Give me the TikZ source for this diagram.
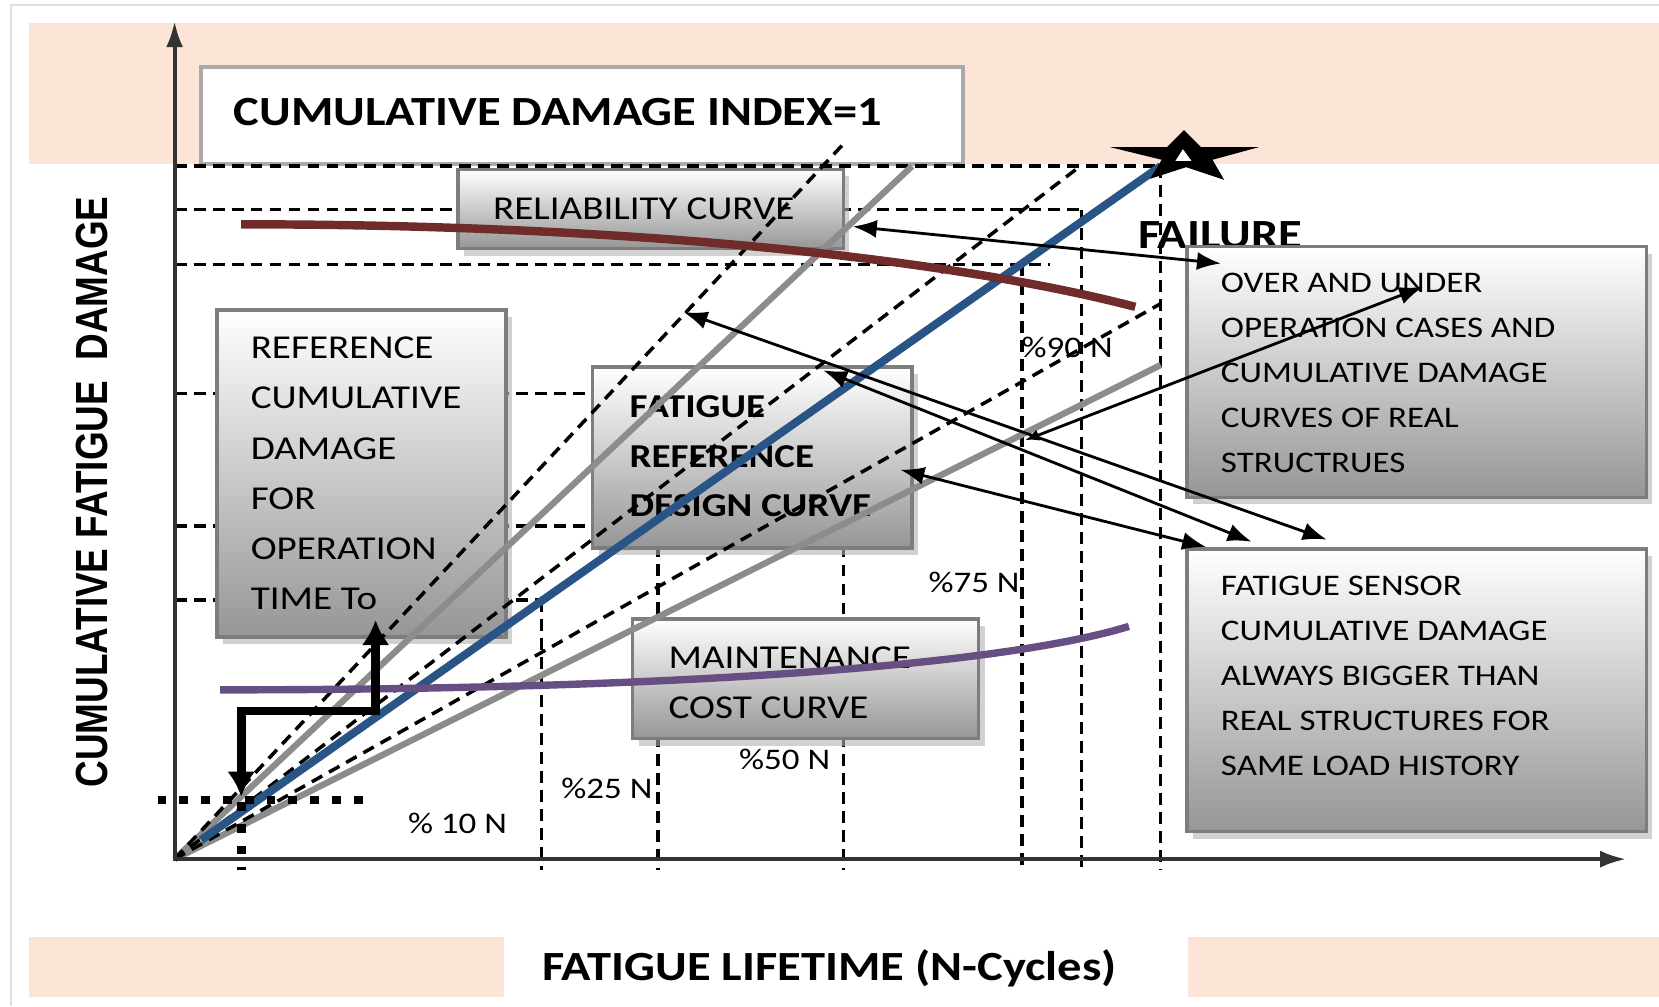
\documentclass[tikz,border=0pt]{standalone}
\usepackage{fontspec}
\setmainfont{Carlito}[FakeStretch=1.17]
\newfontfamily\ylabfont{Liberation Sans}[FakeStretch=0.82]
\usetikzlibrary{arrows.meta,shadows}
\definecolor{peach}{RGB}{252,229,214}
\definecolor{lgray}{RGB}{140,140,140}
\definecolor{dblue}{RGB}{40,84,134}
\definecolor{dred}{RGB}{112,43,43}
\definecolor{dpurple}{RGB}{104,79,131}
\definecolor{bordergray}{RGB}{125,125,125}
\definecolor{boxbottom}{RGB}{150,150,150}
\definecolor{titleborder}{RGB}{170,170,170}
\newdimen\px \px=0.01058cm
\begin{document}
\begin{tikzpicture}[x=0.01058cm, y=-0.01058cm,
  gbox/.style={draw=bordergray, line width=1pt, top color=white, bottom color=boxbottom,
    drop shadow={shadow xshift=0.6mm, shadow yshift=-0.7mm, fill=black!30, opacity=0.6}},
  titlebox/.style={draw=titleborder, line width=1.1pt, fill=white},
  btxt/.style={inner sep=0pt, align=left, font=\fontsize{9.5}{14.3}\selectfont},
  rtxt/.style={inner sep=0pt, align=left, font=\fontsize{8.5}{12.78}\selectfont},
  pct/.style={inner sep=0pt, anchor=west, font=\fontsize{8.5}{10}\selectfont},
  bigtxt/.style={inner sep=0pt, font=\bfseries\fontsize{11.8}{14}\selectfont},
  griddash/.style={line width=1pt, dash pattern=on 3.4pt off 2pt},
  diagdash/.style={line width=1pt, dash pattern=on 3.4pt off 2.2pt},
  grayline/.style={lgray, line width=1.8pt},
  blueline/.style={dblue, line width=2.3pt},
  axisline/.style={black!80, line width=1.1pt, -{Latex[length=2.6mm,width=1.7mm]}},
  thinarrow/.style={line width=0.8pt, {Latex[length=2.4mm,width=1.8mm]}-{Latex[length=2.4mm,width=1.8mm]}},
  thickarrow/.style={line width=2.5pt, {Latex[length=2.5mm,width=2.8mm]}-{Latex[length=2.5mm,width=2.8mm]}},
  thickdot/.style={line width=2.5pt, dash pattern=on 2.5pt off 3.7pt}
]
\useasboundingbox (0,0) rectangle (1568,951);
% background bands and frame
\fill[peach] (27,22) rectangle (1568,155);
\fill[peach] (27,886) rectangle (476,942);
\fill[peach] (1123,886) rectangle (1568,942);
\draw[black!12, line width=0.6pt] (10,951) -- (10,5) -- (1568,5);

% title box
\node[titlebox, minimum width=720\px, minimum height=92\px] (title) at (550,109) {};
\node[bigtxt, anchor=west] (titletext) at ([xshift=32\px, yshift=3\px]title.west) {CUMULATIVE DAMAGE INDEX=1};

% percentage labels
\node[pct] (p90) at (965,328) {\%90 N};
\node[pct] (p75) at (877,550) {\%75 N};
\node[pct] (p50) at (698,718) {\%50 N};
\node[pct] (p25) at (530,745) {\%25 N};
\node[pct] (p10) at (385,778) {\% 10 N};
\node[bigtxt, anchor=west] (failure) at (1075,222) {FAILURE};

% grid dashed lines
\foreach \yy/\xx in {157/1097, 198/1022, 250/992, 372/797, 497/622, 567/512}
  \draw[griddash] (165,\yy) -- (\xx,\yy);
\foreach \xx/\yy in {1097/157, 1022/198, 966/250, 797/372, 622/497, 512/567}
  \draw[griddash] (\xx,\yy) -- (\xx,822);

% boxes
\node[gbox, minimum width=364\px, minimum height=75\px] (relbox) at (615,197.5) {};
\node[btxt, anchor=west] (reltext) at ([xshift=34\px]relbox.west) {RELIABILITY CURVE};

\node[gbox, minimum width=273\px, minimum height=309\px] (refbox) at (341.5,447.5) {};
\node[btxt, anchor=west] (reftext) at ([xshift=33\px]refbox.west) {REFERENCE\\CUMULATIVE\\DAMAGE\\FOR\\OPERATION\\TIME To};

\node[gbox, minimum width=302\px, minimum height=171\px] (fatbox) at (711,432.5) {};
\node[btxt, anchor=west, font=\bfseries\fontsize{9.5}{14.1}\selectfont] (fattext) at ([xshift=36\px, yshift=1\px]fatbox.west) {FATIGUE\\REFERENCE\\DESIGN CURVE};

\node[gbox, minimum width=327\px, minimum height=113\px] (mntbox) at (761.5,641.5) {};
\node[btxt, anchor=west] (mnttext) at ([xshift=35\px, yshift=-4\px]mntbox.west) {MAINTENANCE\\COST CURVE};

\node[gbox, minimum width=434\px, minimum height=237\px] (overbox) at (1339,351.5) {};
\node[rtxt, anchor=west] (overtext) at ([xshift=33\px, yshift=-1\px]overbox.west) {OVER AND UNDER\\OPERATION CASES AND\\CUMULATIVE DAMAGE\\CURVES OF REAL\\STRUCTRUES};

\node[gbox, minimum width=434\px, minimum height=267\px] (sensbox) at (1339,652.5) {};
\node[rtxt, anchor=west] (senstext) at ([xshift=33\px, yshift=14\px]sensbox.west) {FATIGUE SENSOR\\CUMULATIVE DAMAGE\\ALWAYS BIGGER THAN\\REAL STRUCTURES FOR\\SAME LOAD HISTORY};

% origin and fatigue lines
\coordinate (O) at (165,812);
\coordinate (failstar) at (1097,157);
\draw[grayline] (O) -- (862,157);
\draw[grayline] (O) -- (1097,345);
\draw[diagdash] (O) -- (800,133);
\draw[diagdash] (O) -- (1021,157);
\draw[diagdash] (O) -- (1097,287);
\draw[blueline] (190,794) -- (failstar);

% curves
\draw[dred, line width=2.4pt] (228,212) .. controls (600,212) and (900,245) .. (1073,290);
\draw[dpurple, line width=2.1pt] (208,652) .. controls (650,652) and (950,628) .. (1067,592);

% thick dotted and staircase
\draw[thickdot] (149,756) -- (352,756);
\draw[thickdot] (228,758) -- (228,822);
\coordinate (stairup) at (355,586);
\coordinate (stairdown) at (228,753);
\draw[thickarrow] (stairup) -- (355,672) -- (228,672) -- (stairdown);

% axes
\coordinate (ytop) at (165,20);
\coordinate (xend) at (1537,812);
\draw[axisline] (165,814) -- (ytop);
\draw[axisline] (164,812) -- (xend);

% star
\fill[black] (1119,123) -- (1135,139) -- (1190,139) -- (1146,151) -- (1157,170) -- (1121,158)
  -- (1087,169) -- (1098,151) -- (1049,139) -- (1103,139) -- cycle;
\fill[white] (1118,141) -- (1111,152) -- (1126,152) -- cycle;

% arrows
\coordinate (a1s) at (806,214); \coordinate (a1e) at (1154,249);
\coordinate (a2s) at (646,295); \coordinate (a2e) at (1254,510);
\coordinate (a3s) at (778,350); \coordinate (a3e) at (1183,512);
\coordinate (a4s) at (851,444); \coordinate (a4e) at (1140,517);
\coordinate (a5s) at (969,416); \coordinate (a5e) at (1345,271);
\draw[thinarrow] (a1s) -- (a1e);
\draw[thinarrow] (a2s) -- (a2e);
\draw[thinarrow] (a3s) -- (a3e);
\draw[thinarrow] (a4s) -- (a4e);
\draw[line width=0.8pt, {Latex[length=1.4mm,width=1.2mm]}-{Latex[length=2.4mm,width=1.8mm]}] (a5s) -- (a5e);

% axis labels
\node[inner sep=0pt, rotate=90, font=\ylabfont\bfseries\fontsize{12.8}{14}\selectfont] (ylabel) at (87,465) {CUMULATIVE FATIGUE\ \ DAMAGE};
\node[bigtxt] (xlabel) at (784,915) {FATIGUE LIFETIME (N-Cycles)};
\end{tikzpicture}
\end{document}
